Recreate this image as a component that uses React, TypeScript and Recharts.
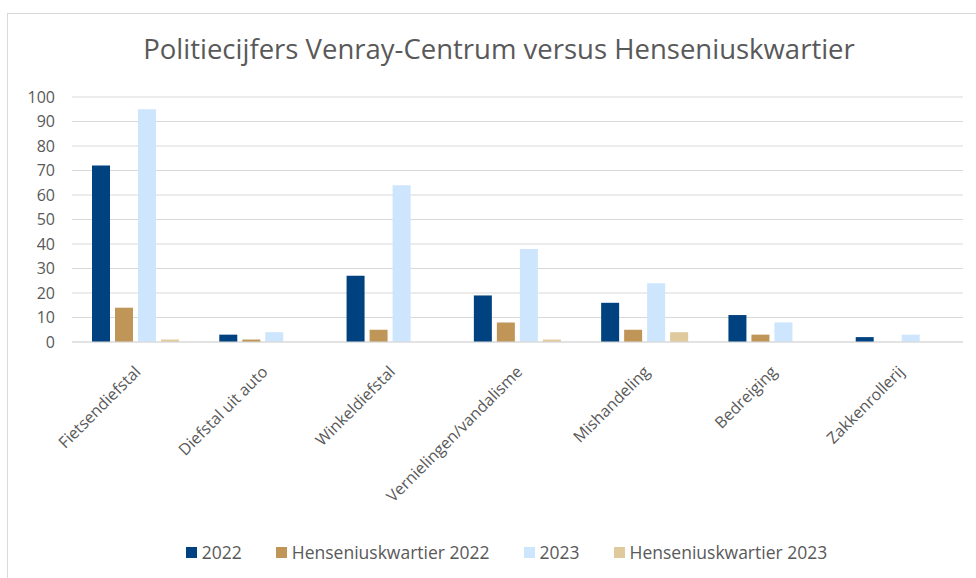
import { BarChart, Bar, XAxis, YAxis, CartesianGrid, Legend } from 'recharts'

const categories = [
  'Fietsendiefstal',
  'Diefstal uit auto',
  'Winkeldiefstal',
  'Vernielingen/vandalisme',
  'Mishandeling',
  'Bedreiging',
  'Zakkenrollerij',
]
const values2022 = [72, 3, 27, 19, 16, 11, 2]
const hens2022 = [14, 1, 5, 8, 5, 3, 0]
const values2023 = [95, 4, 64, 38, 24, 8, 3]
const hens2023 = [1, 0, 0, 1, 4, 0, 0]
const yTicks = [0, 10, 20, 30, 40, 50, 60, 70, 80, 90, 100]
const seriesOrder = ['2022', 'Henseniuskwartier 2022', '2023', 'Henseniuskwartier 2023']

const data = categories.map((name, i) => ({
  name,
  v2022: values2022[i],
  h2022: hens2022[i],
  v2023: values2023[i],
  h2023: hens2023[i],
}))

const FONT = '"Open Sans", sans-serif'
const TEXT = '#595959'

const XTick = (props: any) => {
  const { x, y, payload } = props
  return (
    <g transform={`translate(${x - 2},${y + 15})`}>
      <text transform="rotate(-45)" textAnchor="end" x={0} y={0} dy="0.7em" fill={TEXT} fontSize={16} fontFamily={FONT}>
        {payload.value}
      </text>
    </g>
  )
}

const LegendBox = (props: any) => {
  const items = [...(props.payload || [])].sort(
    (a: any, b: any) => seriesOrder.indexOf(a.value) - seriesOrder.indexOf(b.value)
  )
  return (
    <div style={{ display: 'flex', justifyContent: 'center', gap: 34, fontFamily: FONT, fontSize: 17.5, color: TEXT, paddingTop: 4, marginLeft: 38 }}>
      {items.map((p: any) => (
        <div key={p.value} style={{ display: 'flex', alignItems: 'center', gap: 5 }}>
          <span style={{ width: 11, height: 11, background: p.color, display: 'inline-block' }} />
          <span>{p.value}</span>
        </div>
      ))}
    </div>
  )
}

export default function App() {
  return (
    <div style={{ position: 'relative', width: 976, height: 578, background: '#fff', overflow: 'hidden' }}>
      <style>{`body{margin:0}`}</style>
      <div
        style={{
          position: 'absolute',
          left: 7,
          top: 13,
          width: 1000,
          height: 600,
          borderLeft: '1.5px solid #d9d9d9',
          borderTop: '1.5px solid #d9d9d9',
        }}
      />
      <div
        style={{
          position: 'absolute',
          top: 30,
          left: 0,
          width: 998,
          textAlign: 'center',
          fontFamily: FONT,
          fontSize: 27.5,
          color: TEXT,
        }}
      >
        Politiecijfers Venray-Centrum versus Henseniuskwartier
      </div>
      <BarChart
        width={976}
        height={578}
        data={data}
        margin={{ top: 97, right: 13, bottom: 12, left: 12 }}
        barSize={18}
        barGap={5}
        style={{ position: 'absolute', left: 0, top: 0 }}
      >
        <CartesianGrid vertical={false} stroke="#d9d9d9" />
        <XAxis
          dataKey="name"
          interval={0}
          height={194}
          tick={<XTick />}
          tickLine={false}
          axisLine={{ stroke: '#d9d9d9' }}
        />
        <YAxis
          width={60}
          domain={[0, 100]}
          ticks={yTicks}
          interval={0}
          tickLine={false}
          axisLine={false}
          tickSize={0}
          tickMargin={17}
          tick={{ fill: TEXT, fontSize: 16, fontFamily: FONT }}
        />
        <Legend verticalAlign="bottom" height={30} content={<LegendBox />} />
        <Bar dataKey="v2022" name="2022" fill="#00427f" isAnimationActive={false} />
        <Bar dataKey="h2022" name="Henseniuskwartier 2022" fill="#bf9658" isAnimationActive={false} />
        <Bar dataKey="v2023" name="2023" fill="#cde5fd" isAnimationActive={false} />
        <Bar dataKey="h2023" name="Henseniuskwartier 2023" fill="#dfc99d" isAnimationActive={false} />
      </BarChart>
    </div>
  )
}
